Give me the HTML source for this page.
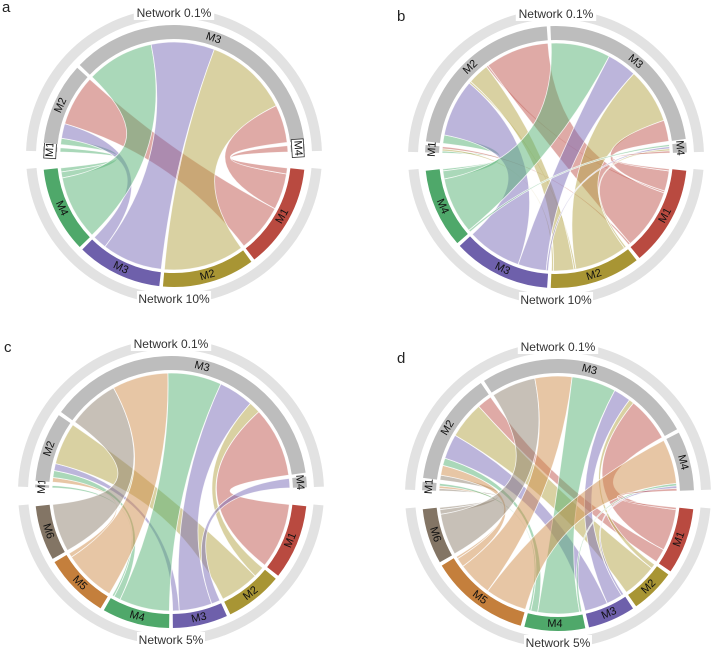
<!DOCTYPE html>
<html><head><meta charset="utf-8"><style>
html,body{margin:0;padding:0;background:#fff;}
svg{display:block;font-family:"Liberation Sans",sans-serif;}
</style></head><body>
<svg id="chart" width="719" height="657" viewBox="0 0 719 657" xmlns="http://www.w3.org/2000/svg"></svg>
<script>
// ---- data ----
const aTopModules = ['M1','M2','M3','M4'];
const aBottomModules = ['M1','M2','M3','M4'];
const aLinks = [[0,3,2],[1,3,3],[1,2,7],[1,0,24],[2,3,32],[2,2,30],[2,1,40],[2,0,18],[3,0,3]];
const bTopModules = ['M1','M2','M3','M4'];
const bBottomModules = ['M1','M2','M3','M4'];
const bLinks = [[0,3,1],[0,1,1],[0,0,1],[1,3,4],[1,1,1],[1,0,1],[1,2,27],[1,1,10],[1,0,30],[2,3,28],[2,2,14],[2,1,26],[2,0,10],[3,3,1],[3,2,1],[3,1,1],[3,0,1]];
const cTopModules = ['M1','M2','M3','M4'];
const cBottomModules = ['M1','M2','M3','M4','M5','M6'];
const cLinks = [[0,3,1],[1,4,2],[1,3,3],[1,2,3],[1,1,18],[2,5,22],[2,4,24],[2,3,23],[2,2,15],[2,1,5],[2,0,30],[3,2,4]];
const dTopModules = ['M1','M2','M3','M4'];
const dBottomModules = ['M1','M2','M3','M4','M5','M6'];
const dLinks = [[0,5,1],[0,4,1],[0,3,1],[1,5,2],[1,4,4],[1,3,3],[1,2,10],[1,1,15],[1,0,6],[2,5,18],[2,4,15],[2,3,18],[2,2,7],[2,1,2],[2,0,18],[3,4,18],[3,3,1],[3,2,1],[3,0,1]];

const NS='http://www.w3.org/2000/svg';
const svg=document.getElementById('chart');
const modColor=['#b94a40','#a89534','#6e60ab','#4fa86a','#c47f3c','#837565'];
const chordColor=['#c0554d','#b3a345','#7a6cb8','#55b274','#d08e4c','#8f8170'];
function el(tag,attrs,parent){const e=document.createElementNS(NS,tag);for(const k in attrs)e.setAttribute(k,attrs[k]);(parent||svg).appendChild(e);return e;}
function pt(cx,cy,r,d){const t=d*Math.PI/180;return [cx+r*Math.sin(t),cy-r*Math.cos(t)];}
function annulus(cx,cy,r0,r1,a1,a2){
  const lg=(a2-a1)>180?1:0;
  const p1=pt(cx,cy,r1,a1),p2=pt(cx,cy,r1,a2),p3=pt(cx,cy,r0,a2),p4=pt(cx,cy,r0,a1);
  return `M${p1}A${r1} ${r1} 0 ${lg} 1 ${p2}L${p3}A${r0} ${r0} 0 ${lg} 0 ${p4}Z`;
}
function layout(mods,sums,start,end,gap){
  const tot=sums.reduce((a,b)=>a+b,0);
  const avail=(end-start)-gap*(mods.length-1);
  const k=avail/tot;let a=start;const out=[];
  sums.forEach(s=>{out.push([a,a+s*k]);a+=s*k+gap;});
  return {ranges:out,k};
}
function panel(id,letter,lx,ly,cx,cy,r,tops,bots,links,botTitle,boxTiny){
  const g=el('g',{});
  
  
  const L=el('text',{x:lx,y:ly,'font-size':15,fill:'#222'},g);L.textContent=letter;
  
  // outer rings
  const o1=el('path',{d:annulus(cx,cy,r+23,r+33,-88,88),fill:'#e2e2e2'},g);
  
  const o2=el('path',{d:annulus(cx,cy,r+23,r+33,95,265),fill:'#e2e2e2'},g);
  
  function title(txt,y,nm){
    const w=txt.length*6.2+6;
    el('rect',{x:cx-w/2,y:y-8,width:w,height:15,fill:'#fff'},g);
    const t=el('text',{x:cx,y:y,'font-size':12,fill:'#333','text-anchor':'middle','dominant-baseline':'central'},g);
    t.textContent=txt;
  }
  title('Network 0.1%',cy-r-28,'top-network-title');
  title(botTitle,cy+r+28,'bottom-network-title');
  const tsum=tops.map((_,i)=>links.filter(l=>l[0]===i).reduce((a,l)=>a+l[2],0));
  const bsum=bots.map((_,i)=>links.filter(l=>l[1]===i).reduce((a,l)=>a+l[2],0));
  const T=layout(tops,tsum,-88,88,1.6), B=layout(bots,bsum,96,264,1.6);
  // chord positions
  const tpos={},bpos={};
  tops.forEach((_,i)=>{let a=T.ranges[i][0];links.map((l,j)=>[l,j]).filter(x=>x[0][0]===i).sort((x,y)=>y[0][1]-x[0][1]).forEach(([l,j])=>{tpos[j]=[a,a+l[2]*T.k];a+=l[2]*T.k;});});
  bots.forEach((_,i)=>{let a=B.ranges[i][0];links.map((l,j)=>[l,j]).filter(x=>x[0][1]===i).sort((x,y)=>y[0][0]-x[0][0]).forEach(([l,j])=>{bpos[j]=[a,a+l[2]*B.k];a+=l[2]*B.k;});});
  const rc=r-1;
  links.forEach((l,j)=>{
    const [a1,a2]=tpos[j],[b1,b2]=bpos[j];
    const p1=pt(cx,cy,rc,a1),p2=pt(cx,cy,rc,a2),q1=pt(cx,cy,rc,b1),q2=pt(cx,cy,rc,b2);
    const d=`M${p1}A${rc} ${rc} 0 0 1 ${p2}Q${cx} ${cy} ${q1}A${rc} ${rc} 0 0 1 ${q2}Q${cx} ${cy} ${p1}Z`;
    const c=el('path',{d:d,fill:chordColor[l[1]],'fill-opacity':0.5,stroke:'#fff','stroke-width':0.8,'stroke-opacity':0.8},g);
    
    
  });
  function modArc(name,a1,a2,fill,top){
    const p=el('path',{d:annulus(cx,cy,r+2,r+16,a1,a2),fill:fill},g);
    
    
    const m=(a1+a2)/2, lp=pt(cx,cy,r+9,m), rot=top?m:m-180;
    if(boxTiny && (a2-a1)<8){
      const b=el('rect',{x:-9,y:-6,width:18,height:12,fill:'#fff',stroke:'#333','stroke-width':0.8,transform:`translate(${lp}) rotate(${rot})`},g);
    }
    const t=el('text',{x:0,y:0,'font-size':11,fill:'#111','text-anchor':'middle','dominant-baseline':'central',transform:`translate(${lp}) rotate(${rot})`},g);
    t.textContent=name;
    
    
  }
  tops.forEach((n,i)=>modArc(n,T.ranges[i][0],T.ranges[i][1],'#bdbdbd',true));
  bots.forEach((n,i)=>modArc(n,B.ranges[i][0],B.ranges[i][1],modColor[i],false));
}
panel('a','a',2,12,174,156,115,aTopModules,aBottomModules,aLinks,'Network 10%',true);
panel('b','b',397,21,556,157,115,bTopModules,bBottomModules,bLinks,'Network 10%',false);
panel('c','c',4,352,171,492,120,cTopModules,cBottomModules,cLinks,'Network 5%',false);
panel('d','d',397,363,558,495,120,dTopModules,dBottomModules,dLinks,'Network 5%',false);
</script>
</body></html>
